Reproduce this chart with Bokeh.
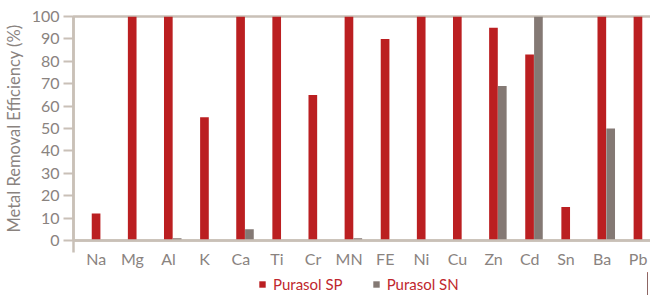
from bokeh.plotting import figure
from bokeh.layouts import column
from bokeh.models import (Range1d, FixedTicker, CustomJSTickFormatter, Legend, LegendItem,
                          ColumnDataSource)
from bokeh.transform import dodge
from bokeh.embed import file_html
from bokeh.resources import INLINE

metals = ["Na", "Mg", "Al", "K", "Ca", "Ti", "Cr", "MN", "FE", "Ni", "Cu", "Zn", "Cd", "Sn", "Ba", "Pb"]
purasol_sp = [12, 100, 100, 55, 100, 100, 65, 100, 90, 100, 100, 95, 83, 15, 100, 100]
purasol_sn = [0, 0, 1, 0, 5, 0, 0, 1, 0, 0, 0, 69, 100, 0, 50, 0]
y_ticks = [0, 10, 20, 30, 40, 50, 60, 70, 80, 90, 100]
series_names = ["Purasol SP", "Purasol SN"]

RED = "#bb1f21"
GRAY = "#847974"
BEIGE = "#c9c0b7"
TEXT = "#8a837f"
FONT = "Lato"

pos = list(range(len(metals)))
src = ColumnDataSource(dict(pos=pos, sp=purasol_sp, sn=purasol_sn))

p = figure(frame_width=578, frame_height=224, output_backend="svg", toolbar_location=None,
           x_range=Range1d(0, len(metals)), y_range=Range1d(0, 100),
           min_border_left=69, min_border_right=3, min_border_top=16, min_border_bottom=32)

r_sp = p.vbar(x=dodge("pos", 0.625, range=p.x_range), top="sp", width=0.24, source=src,
              fill_color=RED, line_color=None)
r_sn = p.vbar(x=dodge("pos", 0.87, range=p.x_range), top="sn", width=0.24, source=src,
              fill_color=GRAY, line_color=None)

p.xgrid.visible = False
p.ygrid.visible = False
p.outline_line_color = BEIGE
p.outline_line_width = 2.5
p.background_fill_color = "white"
p.border_fill_color = "white"

# y axis
ya = p.yaxis[0]
ya.ticker = FixedTicker(ticks=y_ticks)
ya.axis_line_color = BEIGE
ya.axis_line_width = 2.5
ya.major_tick_line_color = BEIGE
ya.major_tick_line_width = 2
ya.major_tick_out = 10
ya.major_tick_in = 0
ya.minor_tick_line_color = None
ya.major_label_standoff = 4
ya.major_label_text_font = FONT
ya.major_label_text_font_size = "16px"
ya.major_label_text_color = TEXT
ya.axis_label = "Metal Removal Efficiency (%)"
ya.axis_label_text_font = FONT
ya.axis_label_text_font_size = "16.5px"
ya.axis_label_text_font_style = "normal"
ya.axis_label_text_color = TEXT
ya.axis_label_standoff = 5

# x axis
xa = p.xaxis[0]
xa.ticker = FixedTicker(ticks=[i + 0.63 for i in pos], minor_ticks=[0])
xa.formatter = CustomJSTickFormatter(args=dict(names=metals),
                                     code="const i = Math.floor(tick); return names[i] || '';")
xa.axis_line_color = BEIGE
xa.axis_line_width = 2.5
xa.major_tick_line_color = None
xa.major_tick_out = 0
xa.major_tick_in = 0
xa.minor_tick_line_color = BEIGE
xa.minor_tick_line_width = 2.5
xa.minor_tick_out = 12
xa.minor_tick_in = 0
xa.major_label_standoff = -4
xa.major_label_text_font = FONT
xa.major_label_text_font_size = "16px"
xa.major_label_text_color = TEXT

# legend strip below the chart (its frame is aligned with the chart's frame)
lg = figure(width=650, height=23, output_backend="svg", toolbar_location=None,
            x_range=Range1d(-2, -1), y_range=Range1d(0, 1), min_border=0)
lg.axis.visible = False
lg.xgrid.visible = False
lg.ygrid.visible = False
lg.outline_line_color = None
lg.background_fill_color = "white"
lg.border_fill_color = "white"
# legend swatch renderers: same data, but outside this strip's visible range
d_sp = lg.vbar(x="pos", top="sp", width=0.1, source=src, fill_color=RED, line_color=None)
d_sn = lg.vbar(x="pos", top="sn", width=0.1, source=src, fill_color=GRAY, line_color=None)

legend = Legend(items=[LegendItem(label=series_names[0], renderers=[d_sp]),
                       LegendItem(label=series_names[1], renderers=[d_sn])],
                orientation="horizontal", location=(185, 2),
                glyph_width=8, glyph_height=8, label_standoff=7, spacing=29,
                padding=0, margin=0, border_line_color=None, background_fill_alpha=0,
                label_text_font=FONT, label_text_font_size="15px", label_text_color="#c0272d",
                label_height=10)
lg.add_layout(legend, "center")

layout = column(p, lg, spacing=0)
open("out.html", "w").write(file_html(layout, INLINE))
